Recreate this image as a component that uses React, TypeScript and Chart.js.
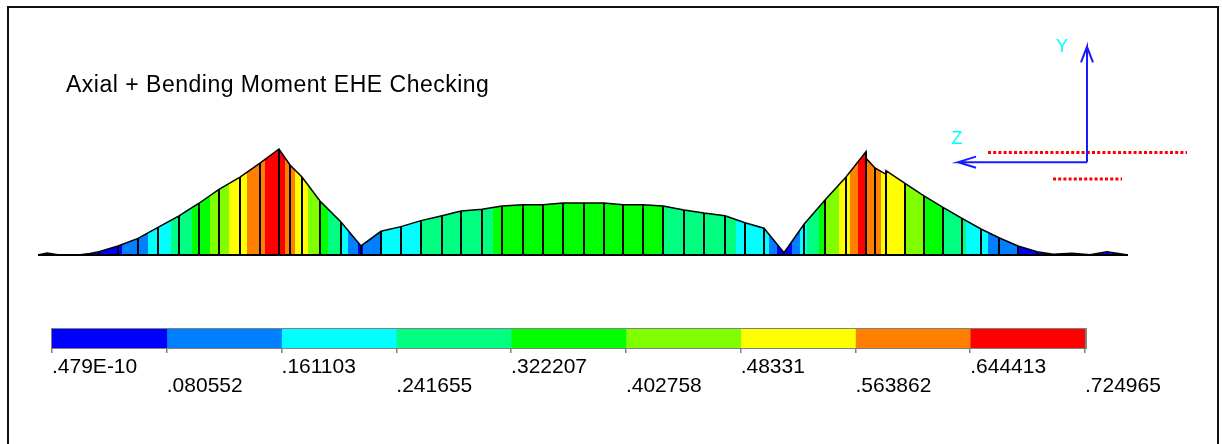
import React, { useEffect, useRef } from "react";
import { Chart, registerables } from "chart.js";

Chart.register(...registerables);

const WIDTH = 1222;
const HEIGHT = 444;
const FONT = "'Liberation Sans', Arial, sans-serif";

// Beam diagram: station along the member, and the checking ratio at each node
const stations = [
  0, 0.9, 2.0, 4.2, 5.2, 6.1, 8.0, 10.0, 12.0, 14.1, 16.1, 18.1, 20.2, 22.2, 24.1, 25.2, 26.4, 28.2, 30.3, 32.3,
  34.3, 36.3, 38.3, 40.4, 42.3, 44.4, 46.4, 48.5, 50.5, 52.5, 54.6, 56.6, 58.5, 60.5, 62.5, 64.6, 66.6, 68.7, 70.7,
  72.6, 74.6, 76.6, 78.7, 80.8, 82.8, 82.8, 83.7, 84.8, 84.8, 86.7, 88.6, 90.5, 92.4, 94.3, 96.1, 98.0, 99.9, 101.5,
  103.4, 105.2, 106.9, 109,
];
const ratios = [
  0, 0.014, 0.002, 0.002, 0.01, 0.023, 0.062, 0.114, 0.189, 0.267, 0.354, 0.449, 0.533, 0.629, 0.725, 0.616, 0.533,
  0.369, 0.226, 0.062, 0.162, 0.194, 0.235, 0.269, 0.301, 0.313, 0.335, 0.344, 0.344, 0.356, 0.356, 0.356, 0.344,
  0.344, 0.335, 0.308, 0.287, 0.269, 0.221, 0.183, 0.016, 0.21, 0.376, 0.533, 0.707, 0.661, 0.595, 0.552, 0.577,
  0.49, 0.404, 0.326, 0.251, 0.178, 0.118, 0.062, 0.023, 0.005, 0.012, 0.002, 0.023, 0,
];

// Contour stripes along the member: end station and colour index of each stripe
const stripeEnds = [
  8.4, 11.0, 13.3, 15.4, 17.2, 19.1, 20.9, 22.7, 24.7, 25.7, 27.0, 28.3, 29.0, 30.3, 31.0, 32.0, 32.5, 34.3, 38.3,
  45.5, 62.6, 69.8, 73.1, 73.9, 75.4, 76.2, 76.9, 78.1, 78.7, 80.1, 81.2, 82.0, 82.8, 84.3, 86.7, 88.6, 90.5, 92.8,
  95.0, 98.0, 109,
];
const stripeBands = [
  0, 1, 2, 3, 4, 5, 6, 7, 8, 7, 6, 5, 4, 3, 2, 1, 0, 1, 2, 3, 4, 3, 2, 1, 0, 1, 2, 3, 4, 5, 6, 7, 8, 7, 6, 5, 4, 3,
  2, 1, 0,
];

// Colour bar
const bandColors = ["#0000ff", "#0080ff", "#00ffff", "#00ff80", "#00ff00", "#80ff00", "#ffff00", "#ff8000", "#ff0000"];
const legendValues = [4.79e-11, 0.080552, 0.161103, 0.241655, 0.322207, 0.402758, 0.48331, 0.563862, 0.644413, 0.724965];
const legendLabels = [
  ".479E-10", ".080552", ".161103", ".241655", ".322207", ".402758", ".48331", ".563862", ".644413", ".724965",
];

// Triad and section sketch, in the same units as the diagram
const yArrowX = [104.9, 104.9, 104.3, 104.9, 105.5];
const yArrowY = [0.635, 1.424, 1.318, 1.424, 1.318];
const zArrowX = [104.9, 92.0, 93.8, 92.0, 93.8];
const zArrowY = [0.635, 0.635, 0.673, 0.635, 0.597];
const sectionTopX = [95.0, 114.9];
const sectionTopY = [0.701, 0.701];
const sectionBottomX = [101.5, 108.4];
const sectionBottomY = [0.52, 0.52];

const titleText = "Axial + Bending Moment EHE Checking";
const triadLabels = [
  { text: "Y", x: 102.4, y: 1.424 },
  { text: "Z", x: 91.9, y: 0.793 },
];

const xy = (xs: number[], ys: number[]) => xs.map((x, i) => ({ x, y: ys[i] }));

const dividerPoints = () => {
  const pts: ({ x: number; y: number } | { x: number; y: null })[] = [];
  stations.forEach((s, i) => {
    if (s < 6 || s > 100) return;
    if (stations[i + 1] === s && ratios[i + 1] < ratios[i]) {
      pts.push({ x: s, y: 0 }, { x: s, y: ratios[i] }, { x: s, y: null });
    } else if (stations[i - 1] !== s) {
      const top = stations[i + 1] === s ? ratios[i + 1] : ratios[i];
      pts.push({ x: s, y: 0 }, { x: s, y: top }, { x: s, y: null });
    }
  });
  return pts;
};

const stripeFill = (ctx: any) => {
  const chart = ctx.chart;
  const sx = chart.scales?.x;
  const fallback = "#00ff00";
  if (!sx || !chart.chartArea) return fallback;
  const x0 = sx.getPixelForValue(stations[0]);
  const x1 = sx.getPixelForValue(stations[stations.length - 1]);
  if (!Number.isFinite(x0) || !Number.isFinite(x1)) return fallback;
  const g = chart.ctx.createLinearGradient(x0, 0, x1, 0);
  const span = stations[stations.length - 1] - stations[0];
  let start = 0;
  stripeEnds.forEach((end, i) => {
    const color = bandColors[stripeBands[i]];
    const stop = Math.min(1, (end - stations[0]) / span);
    g.addColorStop(start, color);
    g.addColorStop(stop, color);
    start = stop;
  });
  return g;
};

const textPlugin = {
  id: "diagramText",
  afterDraw(chart: any) {
    const { ctx, scales } = chart;
    ctx.save();
    ctx.fillStyle = "#000000";
    ctx.font = `23px ${FONT}`;
    ctx.letterSpacing = "0.5px";
    ctx.textAlign = "left";
    ctx.textBaseline = "middle";
    ctx.fillText(titleText, scales.x.getPixelForValue(2.8), scales.y.getPixelForValue(1.159));
    ctx.letterSpacing = "0px";
    ctx.fillStyle = "#00ffff";
    ctx.font = `18px ${FONT}`;
    ctx.textAlign = "center";
    triadLabels.forEach((l) => ctx.fillText(l.text, scales.x.getPixelForValue(l.x), scales.y.getPixelForValue(l.y)));
    ctx.restore();
  },
};

const plainLine = (data: any[], color: string, width: number, extra: any = {}) => ({
  data,
  borderColor: color,
  borderWidth: width,
  pointRadius: 0,
  tension: 0,
  fill: false,
  spanGaps: false,
  ...extra,
});

export default function App() {
  const mainRef = useRef<HTMLCanvasElement>(null);
  const barRef = useRef<HTMLCanvasElement>(null);

  useEffect(() => {
    const main = new Chart(mainRef.current!, {
      type: "line",
      data: {
        datasets: [
          plainLine(dividerPoints(), "#000000", 2),
          plainLine(xy([stations[0], stations[stations.length - 1]], [0, 0]), "#000000", 2),
          plainLine(xy(stations, ratios), "#000000", 1.5, { fill: "origin", backgroundColor: stripeFill }),
          plainLine(xy(yArrowX, yArrowY), "#1a1aff", 2),
          plainLine(xy(zArrowX, zArrowY), "#1a1aff", 2),
          plainLine(xy(sectionTopX, sectionTopY), "#ff0000", 3, { borderDash: [3, 2.2] }),
          plainLine(xy(sectionBottomX, sectionBottomY), "#ff0000", 3, { borderDash: [3, 2.2] }),
        ] as any,
      },
      options: {
        animation: false,
        responsive: false,
        layout: { padding: 0 },
        plugins: { legend: { display: false }, tooltip: { enabled: false } },
        scales: {
          x: { type: "linear", display: false, min: -3.8, max: 118.4 },
          y: { type: "linear", display: false, min: -1.2927, max: 1.7441 },
        },
      },
      plugins: [textPlugin],
    });

    const bar = new Chart(barRef.current!, {
      type: "bar",
      data: {
        labels: [""],
        datasets: bandColors.map((color, i) => ({
          data: [legendValues[i + 1] - legendValues[i]],
          backgroundColor: color,
          barPercentage: 1,
          categoryPercentage: 1,
          borderWidth: 0,
        })),
      },
      options: {
        animation: false,
        responsive: false,
        indexAxis: "y",
        layout: { padding: { left: 52, right: 137, top: 329, bottom: 36 } },
        plugins: { legend: { display: false }, tooltip: { enabled: false } },
        scales: {
          x: {
            stacked: true,
            min: 0,
            max: legendValues[legendValues.length - 1],
            afterBuildTicks: (axis: any) => {
              axis.ticks = legendValues.map((value) => ({ value }));
            },
            afterFit: (axis: any) => {
              axis.height = 60;
              axis.paddingLeft = 0;
              axis.paddingRight = 0;
            },
            ticks: {
              autoSkip: false,
              maxRotation: 0,
              minRotation: 0,
              align: "start",
              padding: 5,
              color: "#000000",
              font: { family: FONT, size: 21, lineHeight: "19px" },
              callback: (_v: any, i: number) => (i % 2 === 0 ? [legendLabels[i]] : ["", legendLabels[i]]),
            },
            grid: { drawOnChartArea: false, drawTicks: true, tickLength: 5, color: "#808080", lineWidth: 1.5 },
            border: { color: "#808080", width: 2 },
          },
          x2: {
            position: "top",
            min: 0,
            max: legendValues[legendValues.length - 1],
            ticks: { display: false },
            grid: { display: false, drawTicks: false },
            border: { color: "#808080", width: 3 },
            afterFit: (axis: any) => {
              axis.height = 0;
              axis.paddingLeft = 0;
              axis.paddingRight = 0;
            },
          },
          y: {
            stacked: true,
            ticks: { display: false },
            grid: { display: false, drawTicks: false },
            border: { color: "#808080", width: 2 },
            afterFit: (axis: any) => {
              axis.width = 0;
            },
          },
          y2: {
            position: "right",
            ticks: { display: false },
            grid: { display: false, drawTicks: false },
            border: { color: "#808080", width: 3 },
            afterFit: (axis: any) => {
              axis.width = 0;
            },
          },
        },
      } as any,
    });

    return () => {
      main.destroy();
      bar.destroy();
    };
  }, []);

  const layer: React.CSSProperties = { position: "absolute", left: 0, top: 0, display: "block" };
  return (
    <div style={{ position: "fixed", left: 0, top: 0, width: WIDTH, height: HEIGHT, background: "#fff", overflow: "hidden" }}>
      <canvas ref={mainRef} width={WIDTH} height={HEIGHT} style={layer} />
      <canvas ref={barRef} width={WIDTH} height={HEIGHT} style={layer} />
      <div
        style={{
          position: "absolute",
          left: 7,
          top: 6,
          width: 1208,
          height: 440,
          borderLeft: "2px solid #111",
          borderTop: "2px solid #111",
          borderRight: "2px solid #111",
        }}
      />
    </div>
  );
}
